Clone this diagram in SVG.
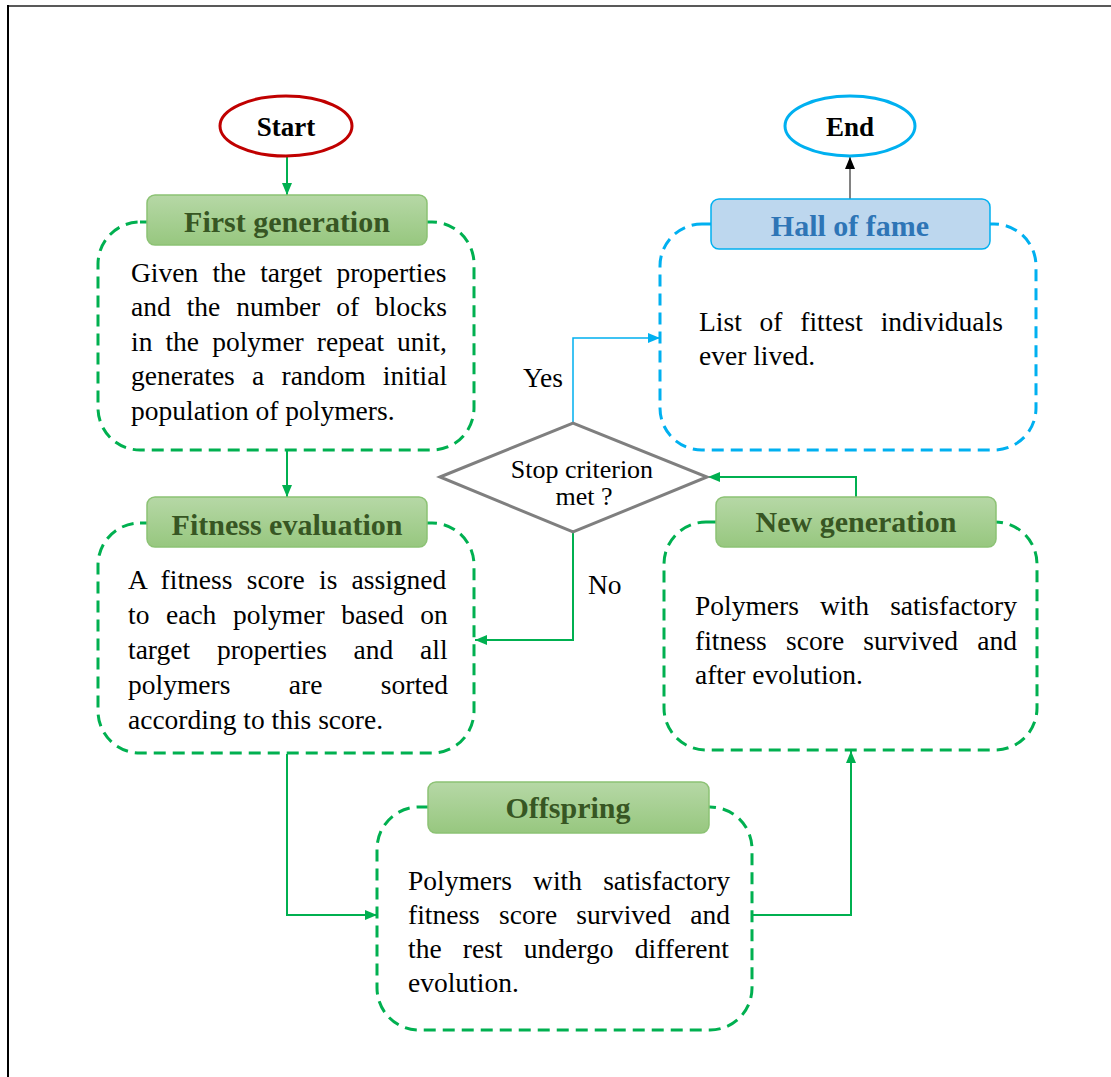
<svg xmlns="http://www.w3.org/2000/svg" width="1111" height="1077" viewBox="0 0 1111 1077">
<style>
.body{font-family:"Liberation Serif","Times New Roman",serif;font-size:27.5px;fill:#000;font-variant-ligatures:none}
.title{font-family:"Liberation Serif","Times New Roman",serif;font-size:30px;font-weight:bold;text-anchor:middle}
.gt{fill:#375623}
.bt{fill:#2E75B6}
.dg{fill:none;stroke:#00B050;stroke-width:3;stroke-dasharray:12 7}
.db{fill:none;stroke:#00B0F0;stroke-width:3;stroke-dasharray:12 7}
.lg{fill:url(#gg);stroke:#8CC274;stroke-width:1.5}
.lb{fill:#BDD7EE;stroke:#00B0F0;stroke-width:1.5}
.cg{fill:none;stroke:#00B050;stroke-width:2}
.cb{fill:none;stroke:#00B0F0;stroke-width:1.5}
.ck{fill:none;stroke:#595959;stroke-width:1.5}
</style>
<defs>
<linearGradient id="gg" x1="0" y1="0" x2="0" y2="1">
<stop offset="0" stop-color="#B6D8A6"/>
<stop offset="1" stop-color="#97C77F"/>
</linearGradient>
<marker id="ag" markerWidth="12" markerHeight="10" refX="12" refY="5" orient="auto" markerUnits="userSpaceOnUse"><path d="M0,0 L12,5 L0,10 Z" fill="#00B050"/></marker>
<marker id="ab" markerWidth="12" markerHeight="10" refX="12" refY="5" orient="auto" markerUnits="userSpaceOnUse"><path d="M0,0 L12,5 L0,10 Z" fill="#00B0F0"/></marker>
<marker id="ak" markerWidth="12" markerHeight="10" refX="12" refY="5" orient="auto" markerUnits="userSpaceOnUse"><path d="M0,0 L12,5 L0,10 Z" fill="#000"/></marker>
</defs>
<rect width="1111" height="1077" fill="#fff"/>
<line x1="8" y1="6" x2="1111" y2="6" stroke="#595959" stroke-width="2"/>
<line x1="8" y1="5" x2="8" y2="1077" stroke="#000" stroke-width="2"/>

<g id="connectors">
<line class="cg" x1="287" y1="156" x2="287" y2="195" marker-end="url(#ag)"/>
<line class="cg" x1="287" y1="451" x2="287" y2="497" marker-end="url(#ag)"/>
<polyline class="cg" points="287,754 287,915 377,915" marker-end="url(#ag)"/>
<polyline class="cg" points="752,915 851,915 851,751" marker-end="url(#ag)"/>
<polyline class="cg" points="856,497 856,477 708,477" marker-end="url(#ag)"/>
<polyline class="cg" points="573,532 573,640 475,640" marker-end="url(#ag)"/>
<polyline class="cb" points="573,423 573,338 660,338" marker-end="url(#ab)"/>
<line class="ck" x1="850" y1="199" x2="850" y2="157" marker-end="url(#ak)"/>
<text class="body" x="523" y="387">Yes</text>
<text class="body" x="588" y="594">No</text>
</g>

<g id="start">
<ellipse cx="286" cy="126" rx="66" ry="30" fill="#fff" stroke="#C00000" stroke-width="3"/>
<text class="title" x="286" y="136" fill="#000" style="font-size:27px">Start</text>
</g>

<g id="end">
<ellipse cx="850" cy="126" rx="65" ry="30" fill="#fff" stroke="#00B0F0" stroke-width="3"/>
<text class="title" x="850" y="136" style="font-size:27px" fill="#000">End</text>
</g>

<g id="first-generation">
<rect class="dg" x="98" y="222" width="376" height="228" rx="42"/>
<rect class="lg" x="147" y="195" width="280" height="50" rx="8"/>
<text class="title gt" x="287" y="232">First generation</text>
<text class="body" x="131" y="282" word-spacing="7.3">Given the target properties</text>
<text class="body" x="131" y="316" word-spacing="9.1">and the number of blocks</text>
<text class="body" x="131" y="351" word-spacing="6.2">in the polymer repeat unit,</text>
<text class="body" x="131" y="385" word-spacing="10.4">generates a random initial</text>
<text class="body" x="131" y="420">population of polymers.</text>
</g>

<g id="fitness-evaluation">
<rect class="dg" x="98" y="523" width="376" height="230" rx="42"/>
<rect class="lg" x="147" y="497" width="280" height="50" rx="8"/>
<text class="title gt" x="287" y="535">Fitness evaluation</text>
<text class="body" x="128" y="589" word-spacing="7.4">A fitness score is assigned</text>
<text class="body" x="128" y="624" word-spacing="9.7">to each polymer based on</text>
<text class="body" x="128" y="659" word-spacing="19.9">target properties and all</text>
<text class="body" x="128" y="694" word-spacing="51.6">polymers are sorted</text>
<text class="body" x="128" y="729">according to this score.</text>
</g>

<g id="decision">
<polygon points="440,477 573,423 707,477 573,532" fill="#fff" stroke="#7F7F7F" stroke-width="3"/>
<text class="body" x="582" y="478" text-anchor="middle" style="font-size:26px">Stop criterion</text>
<text class="body" x="584" y="505" text-anchor="middle" style="font-size:26px">met ?</text>
</g>

<g id="hall-of-fame">
<rect class="db" x="660" y="224" width="376" height="226" rx="42"/>
<rect class="lb" x="711" y="199" width="279" height="50" rx="8"/>
<text class="title bt" x="850" y="236">Hall of fame</text>
<text class="body" x="699" y="331" word-spacing="10.9">List of fittest individuals</text>
<text class="body" x="699" y="365">ever lived.</text>
</g>

<g id="new-generation">
<rect class="dg" x="664" y="522" width="373" height="228" rx="42"/>
<rect class="lg" x="716" y="497" width="280" height="50" rx="8"/>
<text class="title gt" x="856" y="532">New generation</text>
<text class="body" x="695" y="615" word-spacing="14.3">Polymers with satisfactory</text>
<text class="body" x="695" y="650" word-spacing="12.4">fitness score survived and</text>
<text class="body" x="695" y="684">after evolution.</text>
</g>

<g id="offspring">
<rect class="dg" x="377" y="807" width="375" height="223" rx="42"/>
<rect class="lg" x="428" y="782" width="281" height="51" rx="8"/>
<text class="title gt" x="568" y="818">Offspring</text>
<text class="body" x="408" y="890" word-spacing="14.3">Polymers with satisfactory</text>
<text class="body" x="408" y="924" word-spacing="12.4">fitness score survived and</text>
<text class="body" x="408" y="958" word-spacing="14.4">the rest undergo different</text>
<text class="body" x="408" y="992">evolution.</text>
</g>
</svg>
